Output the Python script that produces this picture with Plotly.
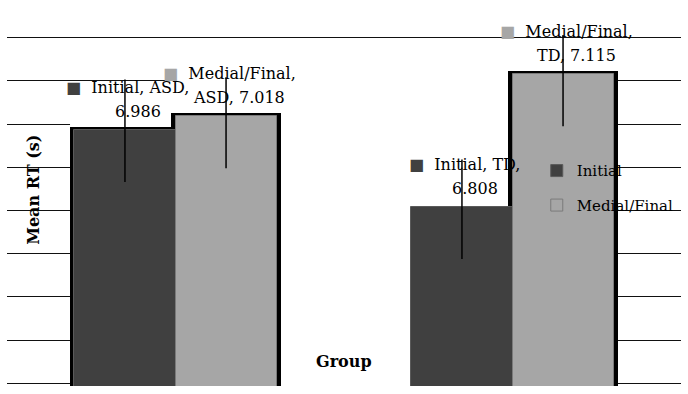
import numpy as np
import plotly.graph_objects as go

# ---------------- data ----------------
groups = ["ASD", "TD"]
series_names = ["Initial", "Medial/Final"]
initial_rt = [6.986, 6.808]
medial_rt = [7.018, 7.115]
initial_err_plus = [0.117, 0.11]
initial_err_minus = [0.12, 0.12]
medial_err_plus = [0.09, 0.097]
medial_err_minus = [0.12, 0.12]
grid_values = [6.4, 6.5, 6.6, 6.7, 6.8, 6.9, 7.0, 7.1, 7.2]
y_title = "Mean RT (s)"
x_title = "Group"

# ---------------- style ----------------
col_init = "#404040"
col_med = "#a6a6a6"
font_fam = "DejaVu Serif"
bar_w = 0.3
sh_dx = 0.013   # shadow extension (category units)
sh_dy = 0.007   # shadow extension (value units)
shadow_on_initial = [True, False]
pad_v = 0.006   # range padding so edge gridlines are drawn

idx = np.arange(len(groups))
x_init = idx - bar_w / 2
x_med = idx + bar_w / 2
ymin, ymax = grid_values[0], grid_values[-1]

fig = go.Figure()

# black "shadow" outlines behind bars
fig.add_trace(go.Bar(
    x=x_init, y=[v + sh_dy if s else None for v, s in zip(initial_rt, shadow_on_initial)],
    width=bar_w + 2 * sh_dx, marker=dict(color="black", line=dict(width=0)),
    showlegend=False, hoverinfo="skip"))
fig.add_trace(go.Bar(
    x=x_med, y=[v + sh_dy for v in medial_rt],
    width=bar_w + 2 * sh_dx, marker=dict(color="black", line=dict(width=0)),
    showlegend=False, hoverinfo="skip"))

fig.add_trace(go.Bar(
    x=x_init, y=initial_rt, width=bar_w, name=series_names[0], legendgroup="a",
    marker=dict(color=col_init, line=dict(color="#5a5a5a", width=1)),
    error_y=dict(type="data", symmetric=False, array=initial_err_plus,
                 arrayminus=initial_err_minus, color="black", thickness=1.5, width=0)))
fig.add_trace(go.Bar(
    x=x_med, y=medial_rt, width=bar_w, name=series_names[1], legendgroup="b",
    marker=dict(color=col_med, line=dict(color="#7a7a7a", width=1)),
    error_y=dict(type="data", symmetric=False, array=medial_err_plus,
                 arrayminus=medial_err_minus, color="black", thickness=1.5, width=0)))

# white masks hiding gridlines behind the bar block (as in the original rendering)
fig.add_shape(type="rect", layer="between", xref="x", yref="y",
              x0=x_init[0] - bar_w / 2 - sh_dx, x1=x_med[0] - bar_w / 2,
              y0=ymin - 0.02, y1=(grid_values[6] + grid_values[7]) / 2,
              fillcolor="white", line=dict(width=0))
fig.add_shape(type="rect", layer="between", xref="x", yref="y",
              x0=x_med[0] - bar_w / 2, x1=x_med[-1] + bar_w / 2 + sh_dx,
              y0=ymin - 0.02, y1=(grid_values[7] + grid_values[8]) / 2,
              fillcolor="white", line=dict(width=0))

# data labels (two lines, first carries the legend key)
lab_font = dict(family=font_fam, size=16, color="black")
for i, g in enumerate(groups):
    for xs, vals, name, c in [(x_init, initial_rt, series_names[0], col_init),
                              (x_med, medial_rt, series_names[1], col_med)]:
        v = vals[i]
        if name == series_names[0]:
            l1, l2 = f"{name}, {g},", f"{v:.3f}"
        else:
            l1, l2 = f"{name},", f"{g}, {v:.3f}"
        fig.add_annotation(x=xs[i], y=v, xref="x", yref="y",
                           text=f"<span style='color:{c}'>■</span>  " + l1,
                           showarrow=False, xanchor="center", yanchor="middle",
                           xshift=3, yshift=43, font=lab_font)
        fig.add_annotation(x=xs[i], y=v, xref="x", yref="y", text=l2,
                           showarrow=False, xanchor="center", yanchor="middle",
                           xshift=13, yshift=19, font=lab_font)

fig.add_annotation(x=0.022, y=0.56, xref="paper", yref="paper", text=f"<b>{y_title}</b>",
                   textangle=-90, showarrow=False,
                   font=dict(family=font_fam, size=16, color="black"))
fig.add_annotation(x=0.5, y=0.038, xref="paper", yref="paper", text=f"<b>{x_title}</b>",
                   showarrow=False, font=dict(family=font_fam, size=16, color="black"))

# plot area: gridline 7.2 at y=38 px, 6.4 at y=383 px
px_per_unit = 345 / (ymax - ymin)
pad_px = pad_v * px_per_unit
fig.update_layout(
    width=688, height=394,
    margin=dict(l=7, r=7, t=38 - pad_px, b=11 - pad_px),
    barmode="overlay", bargap=0,
    plot_bgcolor="white", paper_bgcolor="white",
    showlegend=True,
    legend=dict(x=0.786, y=0.66, xanchor="left", yanchor="top",
                font=dict(family=font_fam, size=15, color="black"),
                bgcolor="rgba(0,0,0,0)", tracegroupgap=12, traceorder="grouped"),
    xaxis=dict(range=[-0.5, 1.5], showticklabels=False, showgrid=False,
               zeroline=False, showline=False, ticks=""),
    yaxis=dict(range=[ymin - pad_v, ymax + pad_v], tickvals=grid_values,
               showticklabels=False, showgrid=True, gridcolor="#111111", gridwidth=1.4,
               zeroline=False, showline=False, ticks=""),
)

fig.write_html("out.html")
